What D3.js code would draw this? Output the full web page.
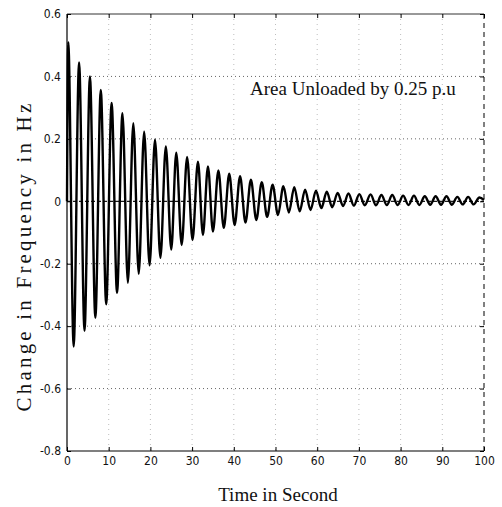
<!DOCTYPE html>
<html>
<head>
<meta charset="utf-8">
<script src="https://cdn.jsdelivr.net/npm/d3@7"></script>
<style>
  body { margin: 0; background: #fff; }
  .tick-label { font-family: "Liberation Sans Narrow", "DejaVu Sans Condensed", "Liberation Sans", sans-serif; font-size: 12px; fill: #111; }
  .title { font-family: "Liberation Serif", "DejaVu Serif", serif; fill: #111; }
</style>
</head>
<body>
<div id="chart"></div>
<script>
// x / y ticks
var xTicks = [0, 10, 20, 30, 40, 50, 60, 70, 80, 90, 100];
var yTicks = [-0.8, -0.6, -0.4, -0.2, 0, 0.2, 0.4, 0.6];
var yTickLabels = ["-0.8", "-0.6", "-0.4", "-0.2", "0", "0.2", "0.4", "0.6"];

// local maxima of the response (time in s, change in Hz)
var peakTimes = [0.3, 2.9, 5.5, 8.1, 10.7, 13.3, 15.9, 18.5, 21.1, 23.7, 26.2, 28.8, 31.4,
  33.8, 36.3, 38.9, 41.5, 44.1, 46.7, 49.3, 51.9, 54.5, 57.1, 59.7, 62.3, 64.9, 67.5,
  70.1, 72.8, 75.4, 78.0, 80.6, 83.2, 85.8, 88.4, 91.0, 93.6, 96.2, 98.9];
var peakValues = [0.51, 0.445, 0.40, 0.357, 0.315, 0.282, 0.250, 0.223, 0.197, 0.176, 0.156, 0.142, 0.127,
  0.112, 0.099, 0.088, 0.080, 0.069, 0.061, 0.053, 0.048, 0.045, 0.037, 0.034, 0.031, 0.027, 0.025,
  0.023, 0.022, 0.020, 0.020, 0.018, 0.018, 0.016, 0.016, 0.016, 0.014, 0.014, 0.012];

// local minima
var troughTimes = [1.6, 4.2, 6.8, 9.4, 12.0, 14.6, 17.2, 19.8, 22.4, 25.0, 27.5, 30.1, 32.6,
  35.0, 37.6, 40.2, 42.8, 45.4, 48.0, 50.6, 53.2, 55.8, 58.4, 61.0, 63.6, 66.2, 68.8,
  71.4, 74.1, 76.7, 79.3, 81.9, 84.5, 87.1, 89.7, 92.3, 94.9, 97.5];
var troughValues = [-0.465, -0.415, -0.373, -0.330, -0.293, -0.261, -0.232, -0.205, -0.181, -0.155, -0.140, -0.124, -0.108,
  -0.097, -0.085, -0.076, -0.068, -0.060, -0.050, -0.044, -0.036, -0.032, -0.028, -0.022, -0.019, -0.015, -0.014,
  -0.013, -0.013, -0.012, -0.012, -0.012, -0.012, -0.011, -0.011, -0.011, -0.010, -0.010];

var startPoint = [0, 0];
var endPoint = [100, 0.004];

var width = 502, height = 507;
var mLeft = 67, mRight = 484, mTop = 14, mBottom = 451;

var svg = d3.select("#chart").append("svg")
  .attr("width", width)
  .attr("height", height);

var x = d3.scaleLinear().domain([0, 100]).range([mLeft, mRight]);
var y = d3.scaleLinear().domain([-0.8, 0.6]).range([mBottom, mTop]);

// grid
svg.selectAll("line.hgrid")
  .data(yTicks.filter(function(d) { return d > -0.8 && d < 0.6; }))
  .enter().append("line")
  .attr("class", "hgrid")
  .attr("x1", mLeft).attr("x2", mRight)
  .attr("y1", function(d) { return y(d); })
  .attr("y2", function(d) { return y(d); })
  .style("stroke", "#000")
  .style("stroke-width", function(d) { return d == 0 ? 1.2 : 1; })
  .style("stroke-dasharray", function(d) { return d == 0 ? "4,2" : "1,3"; })
  .style("opacity", function(d) { return d == 0 ? 0.9 : 0.6; });

svg.selectAll("line.vgrid")
  .data(xTicks.filter(function(d) { return d > 0 && d < 100; }))
  .enter().append("line")
  .attr("class", "vgrid")
  .attr("y1", mTop).attr("y2", mBottom)
  .attr("x1", function(d) { return x(d); })
  .attr("x2", function(d) { return x(d); })
  .style("stroke", "#000")
  .style("stroke-dasharray", "1,4")
  .style("opacity", 0.25);

// box
svg.append("line").attr("x1", mLeft).attr("x2", mLeft).attr("y1", mTop).attr("y2", mBottom)
  .style("stroke", "#000").style("stroke-width", 1.2);
svg.append("line").attr("x1", mLeft).attr("x2", mRight).attr("y1", mBottom).attr("y2", mBottom)
  .style("stroke", "#000").style("stroke-width", 1.2);
svg.append("line").attr("x1", mLeft).attr("x2", mRight).attr("y1", mTop).attr("y2", mTop)
  .style("stroke", "#333").style("stroke-width", 1);
svg.append("line").attr("x1", mRight).attr("x2", mRight).attr("y1", mTop).attr("y2", mBottom)
  .style("stroke", "#000").style("stroke-dasharray", "5,4");

// inward ticks
var xAxis = d3.axisBottom(x).tickValues(xTicks).tickSize(-4).tickFormat(d3.format("d")).tickPadding(5);
var gx = svg.append("g").attr("transform", "translate(0," + mBottom + ")").call(xAxis);
gx.select(".domain").remove();
gx.selectAll("text").attr("class", "tick-label").attr("font-family", null).attr("font-size", null);

var xAxisTop = d3.axisTop(x).tickValues(xTicks).tickSize(-4).tickFormat("");
var gxt = svg.append("g").attr("transform", "translate(0," + mTop + ")").call(xAxisTop);
gxt.select(".domain").remove();

var yAxis = d3.axisLeft(y).tickValues(yTicks).tickSize(-4).tickPadding(6)
  .tickFormat(function(d, i) { return yTickLabels[i]; });
var gy = svg.append("g").attr("transform", "translate(" + mLeft + ",0)").call(yAxis);
gy.select(".domain").remove();
gy.selectAll("text").attr("class", "tick-label").attr("font-family", null).attr("font-size", null);

var yAxisRight = d3.axisRight(y).tickValues(yTicks).tickSize(-4).tickFormat("");
var gyr = svg.append("g").attr("transform", "translate(" + mRight + ",0)").call(yAxisRight);
gyr.select(".domain").remove();

svg.selectAll(".tick line").style("stroke", "#000");

// response curve through the read extrema
var pts = [startPoint];
peakTimes.forEach(function(t, i) {
  pts.push([t, peakValues[i]]);
  if (i < troughTimes.length) pts.push([troughTimes[i], troughValues[i]]);
});
pts.push(endPoint);

var line = d3.line()
  .x(function(d) { return x(d[0]); })
  .y(function(d) { return y(d[1]); })
  .curve(d3.curveMonotoneX);

svg.append("path")
  .datum(pts)
  .attr("d", line)
  .style("fill", "none")
  .style("stroke", "#000")
  .style("stroke-width", 2.4);

// annotation
svg.append("text")
  .attr("class", "title")
  .attr("x", 250).attr("y", 95)
  .style("font-size", "19px")
  .text("Area Unloaded by 0.25 p.u");

// axis titles
svg.append("text")
  .attr("class", "title")
  .attr("x", 278).attr("y", 501)
  .attr("text-anchor", "middle")
  .style("font-size", "19px")
  .text("Time in Second");

svg.append("text")
  .attr("class", "title")
  .attr("transform", "translate(31,256) rotate(-90)")
  .attr("text-anchor", "middle")
  .style("font-size", "21px")
  .style("letter-spacing", "3.2px")
  .text("Change in Frequency in Hz");
</script>
</body>
</html>
